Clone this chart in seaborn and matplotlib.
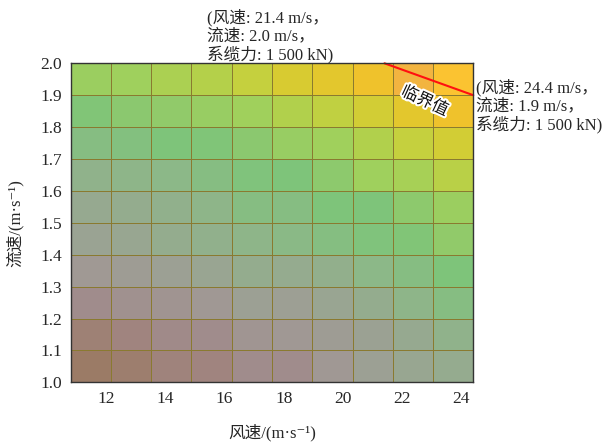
import numpy as np
import pandas as pd
import matplotlib
matplotlib.use("Agg")
import matplotlib.pyplot as plt
import matplotlib.patheffects as pe
from matplotlib.colors import LinearSegmentedColormap
import seaborn as sns

# Cell edges of the grid
wind_edges = [10.8, 12.16, 13.52, 14.88, 16.24, 17.6, 18.96, 20.32, 21.68, 23.04, 24.4]
current_edges = [1.0, 1.1, 1.2, 1.3, 1.4, 1.5, 1.6, 1.7, 1.8, 1.9, 2.0]

# Mooring force (kN), rows from low current (1.0) to high current (2.0)
force_rows = [
    [620, 660, 740, 760, 840, 840, 920, 1000, 1040, 1070],
    [700, 760, 820, 840, 900, 920, 960, 1010, 1060, 1120],
    [840, 870, 890, 920, 1000, 990, 1030, 1080, 1140, 1190],
    [930, 960, 1000, 1030, 1080, 1070, 1100, 1160, 1190, 1240],
    [1020, 1040, 1080, 1110, 1140, 1170, 1200, 1230, 1250, 1300],
    [1060, 1080, 1110, 1140, 1190, 1190, 1240, 1240, 1290, 1340],
    [1120, 1140, 1160, 1190, 1230, 1240, 1290, 1355, 1380, 1430],
    [1190, 1210, 1240, 1245, 1280, 1330, 1360, 1410, 1460, 1490],
    [1250, 1280, 1300, 1330, 1360, 1410, 1450, 1490, 1520, 1540],
    [1340, 1355, 1390, 1420, 1460, 1500, 1520, 1540, 1600, 1570],
]

x_ticks = [12, 14, 16, 18, 20, 22, 24]
y_ticks = [1.0, 1.1, 1.2, 1.3, 1.4, 1.5, 1.6, 1.7, 1.8, 1.9, 2.0]

# Critical line endpoints (wind m/s, current m/s)
crit_wind = [21.4, 24.4]
crit_current = [2.0, 1.9]

note_top = "(风速: 21.4 m/s，\n流速: 2.0 m/s，\n系缆力: 1 500 kN)"
note_right = "(风速: 24.4 m/s，\n流速: 1.9 m/s，\n系缆力: 1 500 kN)"

sns.set_style("white")
plt.rcParams["font.family"] = ["Liberation Serif", "Noto Sans CJK SC", "DejaVu Sans"]

stops = [
    (0.00, "#9A7A62"), (0.08, "#9E8072"), (0.16, "#A08480"), (0.24, "#A08C8C"),
    (0.32, "#A09894"), (0.40, "#9CA094"), (0.48, "#94AC8E"), (0.56, "#8CB888"),
    (0.64, "#7EC47A"), (0.70, "#90CA6A"), (0.76, "#A0D05C"), (0.82, "#B4D04A"),
    (0.87, "#C8D03C"), (0.91, "#DCCA2E"), (0.94, "#EEC22C"), (0.97, "#FCC430"),
    (1.00, "#F2B440"),
]
cmap = LinearSegmentedColormap.from_list("force", stops)

df = pd.DataFrame(force_rows)

fig = plt.figure(figsize=(6.08, 4.44), dpi=100)
ax = fig.add_axes([70.7 / 608, 1 - 382.3 / 444, (473.3 - 70.7) / 608, (382.3 - 63.3) / 444])

sns.heatmap(df, ax=ax, cmap=cmap, vmin=600, vmax=1600, cbar=False,
            linewidths=0.45, linecolor="#8A7A30",
            xticklabels=False, yticklabels=False)
ax.invert_yaxis()
ax.set_xlim(0, 10)
ax.set_ylim(0, 10)


def wx(v):
    return np.interp(v, wind_edges, np.arange(len(wind_edges)))


def cy(v):
    return np.interp(v, current_edges, np.arange(len(current_edges)))


ax.set_xticks(wx(x_ticks))
ax.set_xticklabels([str(t) for t in x_ticks], fontsize=12.5)
ax.set_yticks(cy(y_ticks))
ax.set_yticklabels([f"{t:.1f}" for t in y_ticks], fontsize=12.5)
ax.tick_params(direction="in", length=4, width=0.9, color="#222222", pad=6)

for s in ax.spines.values():
    s.set_visible(True)
    s.set_color("#333333")
    s.set_linewidth(1.0)

ax.set_xlabel("风速/(m·s⁻¹)", fontsize=12, labelpad=12)
ax.set_ylabel("流速/(m·s⁻¹)", fontsize=12, labelpad=12)

# Critical value line and label
ax.plot(wx(crit_wind), cy(crit_current), color="#FF1010", lw=1.5, clip_on=False)
ax.text(wx(22.75), cy(1.88), "临界值", rotation=-25, ha="center", va="center",
        fontsize=12, color="#111111",
        path_effects=[pe.withStroke(linewidth=3, foreground="white")])

fig.text(207 / 608, 1 - 9 / 444, note_top, ha="left", va="top", fontsize=12,
         linespacing=1.12)
fig.text(476 / 608, 1 - 79 / 444, note_right, ha="left", va="top", fontsize=12,
         linespacing=1.12)

fig.savefig("out.png", dpi=100)
